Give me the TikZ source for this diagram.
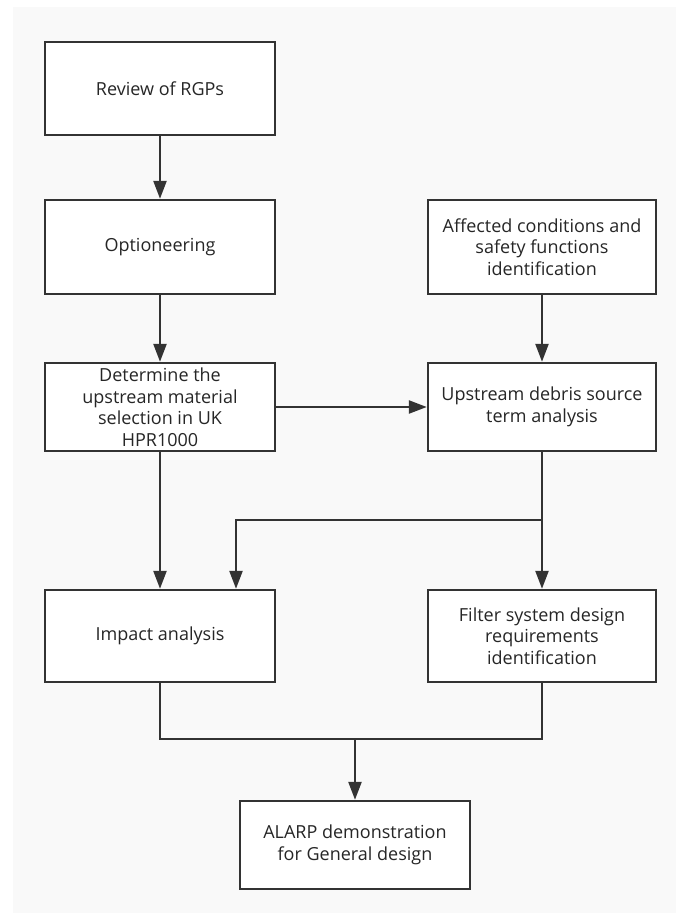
\documentclass[tikz,border=0pt]{standalone}
\usepackage{fontspec}
\setmainfont{Open Sans}
\usetikzlibrary{arrows.meta}
\definecolor{panel}{HTML}{F9F9F9}
\definecolor{ink}{HTML}{333333}
\definecolor{txt}{HTML}{262626}
\tikzset{
  box/.style={draw=ink, line width=2.4pt, fill=white, minimum width=230pt, minimum height=92pt, inner sep=0pt, align=center, text=txt, font=\fontsize{18}{21.5}\selectfont},
  conn/.style={draw=ink, line width=2.4pt},
  arr/.style={conn, -{Triangle[length=18pt, width=13pt]}}
}
\begin{document}
\begin{tikzpicture}[x=1pt, y=-1pt]
\useasboundingbox (0,0) rectangle (676,913);
\fill[panel] (13,7) rectangle (676,913);
\node[box, minimum height=93pt] (review) at (160,88.5) {Review of RGPs};
\node[box, minimum height=94pt] (opt) at (160,247) {Optioneering};
\node[box, minimum height=94pt, minimum width=228pt] (aff) at (542,247) {Affected conditions and\\safety functions\\identification};
\node[box, minimum height=88pt] (det) at (160,407) {Determine the\\upstream material\\selection in UK\\HPR1000};
\node[box, minimum height=88pt, minimum width=228pt] (up) at (542,407) {Upstream debris source\\term analysis};
\node[box] (imp) at (160,636) {Impact analysis};
\node[box, minimum width=228pt] (fil) at (542,636) {Filter system design\\requirements\\identification};
\node[box, minimum height=88pt] (alarp) at (355,845) {ALARP demonstration\\for General design};
\coordinate (split) at (542,520);
\coordinate (merge) at (355,739);
\draw[arr] (review) -- (opt);
\draw[arr] (opt) -- (det);
\draw[arr] (aff) -- (up);
\draw[arr] (det) -- (up);
\draw[arr] (det) -- (imp);
\draw[arr] (up) -- (fil);
\draw[arr] (split) -| ([xshift=76pt]imp.north);
\draw[conn] (imp.south) |- (merge);
\draw[conn] (fil.south) |- (merge);
\draw[arr] (merge) -- (alarp);
\end{tikzpicture}
\end{document}
